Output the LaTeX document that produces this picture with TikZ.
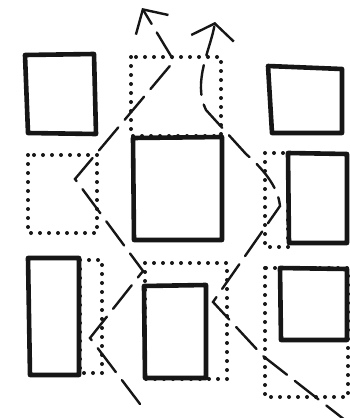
\documentclass[tikz,border=0pt]{standalone}
\usepackage{tikz}
\usetikzlibrary{arrows.meta}
\definecolor{inkblack}{HTML}{161616}

\begin{document}
\begin{tikzpicture}[x=1pt, y=-1pt,
    block/.style={draw=inkblack, line width=4.6pt, line join=round},
    zone/.style={draw=inkblack, line width=4pt, line cap=round, dash pattern=on 0pt off 9pt},
    route/.style={draw=inkblack, line width=2.4pt, line cap=round, dash pattern=on 30pt off 10pt}]
  \useasboundingbox (0,0) rectangle (350,418);
  \fill[white] (0,0) rectangle (350,418);
  % dotted zones
  \draw[zone] (131,57) rectangle (221,136);
  \draw[zone] (28,155) rectangle (97,233);
  \draw[zone] (80,260) rectangle (102,373);
  \draw[zone] (145,263) rectangle (227,379);
  \draw[zone] (265,153) rectangle (288,247);
  \draw[zone] (265,268) rectangle (348,397);
  % solid blocks
  \draw[block] (25,55) -- (94,54) -- (96,134) -- (28,133) -- cycle;
  \draw[block] (133,138) -- (222,137) -- (222,240) -- (134,240) -- cycle;
  \draw[block] (268,66) -- (342,69) -- (342,133) -- (272,133) -- cycle;
  \draw[block] (288,153) -- (347,154) -- (347,243) -- (289,243) -- cycle;
  \draw[block] (280,268) -- (347,269) -- (347,340) -- (281,340) -- cycle;
  \draw[block] (28,258) -- (79,258) -- (79,375) -- (30,375) -- cycle;
  \draw[block] (144,286) -- (206,285) -- (206,378) -- (145,378) -- cycle;
  % routes
  \draw[route, -{Straight Barb[length=18pt, width=38pt]}]
    (140,404) -- (90,338) -- (143,271) -- (75,179) -- (174,61) -- (142,8);
  \draw[route, -{Straight Barb[length=15pt, width=43pt]}]
    (350,424) -- (263,356) -- (213,302) -- (280,206)
    .. controls (278,186) and (262,168) .. (246,154) -- (206,110)
    .. controls (192,82) and (211,48) .. (215,22);
\end{tikzpicture}
\end{document}
